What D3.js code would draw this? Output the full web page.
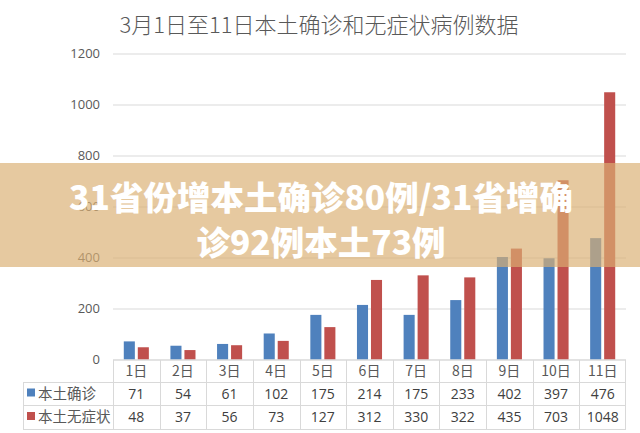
<!DOCTYPE html>
<html><head><meta charset="utf-8">
<script src="https://cdn.jsdelivr.net/npm/d3@7/dist/d3.min.js"></script>
<style>
html,body{margin:0;padding:0;background:#fff;}
svg{display:block;font-family:"Noto Sans CJK SC","Noto Sans",sans-serif;}
</style></head>
<body>
<script>
const title = "3月1日至11日本土确诊和无症状病例数据";
const categories = ["1日","2日","3日","4日","5日","6日","7日","8日","9日","10日","11日"];
const seriesNames = ["本土确诊","本土无症状"];
const confirmed = [71,54,61,102,175,214,175,233,402,397,476];
const asymptomatic = [48,37,56,73,127,312,330,322,435,703,1048];
const yTicks = [0,200,400,600,800,1000,1200];
const bannerLines = ["31省份增本土确诊80例/31省增确","诊92例本土73例"];
const colors = ["#4f81bd","#c0504d"];

const W=640,H=433;
const svg=d3.select("body").append("svg").attr("width",W).attr("height",H);

const x=d3.scaleBand().domain(categories).range([113,626]);
const y=d3.scaleLinear().domain([0,1200]).range([359.5,53.5]);
const xs=d3.scaleBand().domain([0,1]).range([0,x.bandwidth()]).paddingInner(0.21).paddingOuter(0.77);

svg.append("text").attr("x",319).attr("y",33).attr("text-anchor","middle")
  .attr("font-size",22).attr("fill","#595959").attr("font-weight",300).text(title);

const yAxis=d3.axisLeft(y).tickValues(yTicks).tickFormat(d3.format("d")).tickSize(-(626-113)).tickPadding(13);
const ga=svg.append("g").attr("transform","translate(113,0)").call(yAxis);
ga.select(".domain").remove();
ga.selectAll(".tick line").attr("stroke","#d9d9d9").attr("stroke-width",1);
ga.selectAll(".tick text").attr("fill","#595959").attr("font-size",13)
  .attr("font-family","'Open Sans','Noto Sans',sans-serif");

const data=categories.map((c,i)=>({c,v:[confirmed[i],asymptomatic[i]]}));
const g=svg.append("g");
data.forEach(d=>{
  d.v.forEach((v,k)=>{
    g.append("rect").attr("x",x(d.c)+xs(k)).attr("width",xs.bandwidth())
     .attr("y",y(v)).attr("height",y(0)-y(v)).attr("fill",colors[k]);
  });
});

const tb=svg.append("g");
const rowY=[360,382,405,429];
const lc="#d9d9d9";
const tx0=23;
tb.append("line").attr("x1",113).attr("x2",626).attr("y1",rowY[0]).attr("y2",rowY[0]).attr("stroke",lc);
[1,2,3].forEach(r=>tb.append("line").attr("x1",tx0).attr("x2",626).attr("y1",rowY[r]+0.5).attr("y2",rowY[r]+0.5).attr("stroke",lc));
tb.append("line").attr("x1",tx0+0.5).attr("x2",tx0+0.5).attr("y1",rowY[1]).attr("y2",rowY[3]).attr("stroke",lc);
categories.forEach(c=>tb.append("line").attr("x1",Math.round(x(c))+0.5).attr("x2",Math.round(x(c))+0.5).attr("y1",rowY[0]).attr("y2",rowY[3]).attr("stroke",lc));
tb.append("line").attr("x1",625.5).attr("x2",625.5).attr("y1",rowY[0]).attr("y2",rowY[3]).attr("stroke",lc);
categories.forEach(c=>tb.append("text").attr("x",x(c)+x.bandwidth()/2).attr("y",376)
  .attr("text-anchor","middle").attr("font-size",14).attr("fill","#595959").text(c));
[confirmed,asymptomatic].forEach((arr,r)=>{
  const yy=(rowY[r+1]+rowY[r+2])/2+5;
  tb.append("rect").attr("x",27).attr("y",yy-10).attr("width",8).attr("height",8).attr("fill",colors[r]);
  tb.append("text").attr("x",38).attr("y",yy).attr("font-size",14.5).attr("fill","#595959").text(seriesNames[r]);
  arr.forEach((v,i)=>tb.append("text").attr("x",x(categories[i])+x.bandwidth()/2).attr("y",yy)
    .attr("text-anchor","middle").attr("font-size",14).attr("fill","#404040")
    .attr("font-family","'Open Sans','Noto Sans',sans-serif").text(v));
});

svg.append("rect").attr("x",0).attr("y",163).attr("width",W).attr("height",104)
  .attr("fill","rgb(218,175,115)").attr("fill-opacity",0.68);
bannerLines.forEach((t,i)=>svg.append("text").attr("x",321).attr("y",210+i*45)
  .attr("text-anchor","middle").attr("font-size",33.5).attr("font-weight",900)
  .attr("fill","#fff").text(t));
</script>
</body></html>
